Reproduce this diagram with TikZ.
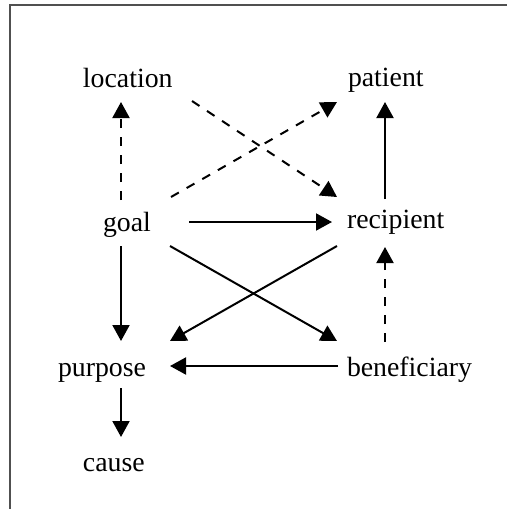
\documentclass[tikz,border=0pt]{standalone}
\usepackage{fontspec}
\setmainfont{Liberation Serif}
\usetikzlibrary{arrows.meta,calc}

\tikzset{every picture/.style={line width=1pt}}
\tikzset{
	role/.style={inner sep=0pt, anchor=base west, font=\fontsize{13.9pt}{16pt}\selectfont},
	link/.style={-{Triangle[length=8pt,width=8.5pt]}, line width=1pt},
	weaklink/.style={link, dash pattern=on 4.5pt off 4.5pt}
}

\begin{document}
\begin{tikzpicture}[x=0.5pt,y=0.5pt,yscale=-1]
	\useasboundingbox (0,0) rectangle (507,509);

	%Frame
	\draw [color={rgb, 255:red, 80; green, 80; blue, 80 }, line width=1.1pt]  (10,509) -- (10,5) -- (507,5) ;

	% Text Node
	\node [role] (location) at (82,87) {location};
	% Text Node
	\node [role] (patient) at (347,86) {patient};
	% Text Node
	\node [role] (goal) at (102,231) {goal};
	% Text Node
	\node [role] (recipient) at (346,228) {recipient};
	% Text Node
	\node [role] (purpose) at (57,376) {purpose};
	% Text Node
	\node [role] (beneficiary) at (346,376) {beneficiary};
	% Text Node
	\node [role] (cause) at (82,471) {cause};

	%Dashed Lines
	\draw [weaklink]  ($(goal.base west)+(19,-31)$) -- ($(location.base west)+(39,15)$) ;
	\draw [weaklink]  ($(location.base west)+(110,14)$) -- ($(recipient.base west)+(-9,-31)$) ;
	\draw [weaklink]  ($(goal.base west)+(69,-34)$) -- ($(patient.base west)+(-10,16)$) ;
	\draw [weaklink]  ($(beneficiary.base west)+(39,-34)$) -- ($(recipient.base west)+(39,19)$) ;

	%Straight Lines
	\draw [link]  ($(recipient.base west)+(39,-29)$) -- ($(patient.base west)+(38,16)$) ;
	\draw [link]  ($(goal.base west)+(87,-9)$) -- ($(recipient.base west)+(-14,-6)$) ;
	\draw [link]  ($(goal.base west)+(68,15)$) -- ($(beneficiary.base west)+(-9,-35)$) ;
	\draw [link]  ($(recipient.base west)+(-9,18)$) -- ($(purpose.base west)+(113,-35)$) ;
	\draw [link]  ($(goal.base west)+(19,15)$) -- ($(purpose.base west)+(64,-35)$) ;
	\draw [link]  ($(beneficiary.base west)+(-8,-10)$) -- ($(purpose.base west)+(113,-10)$) ;
	\draw [link]  ($(purpose.base west)+(64,12)$) -- ($(cause.base west)+(39,-34)$) ;

\end{tikzpicture}
\end{document}
